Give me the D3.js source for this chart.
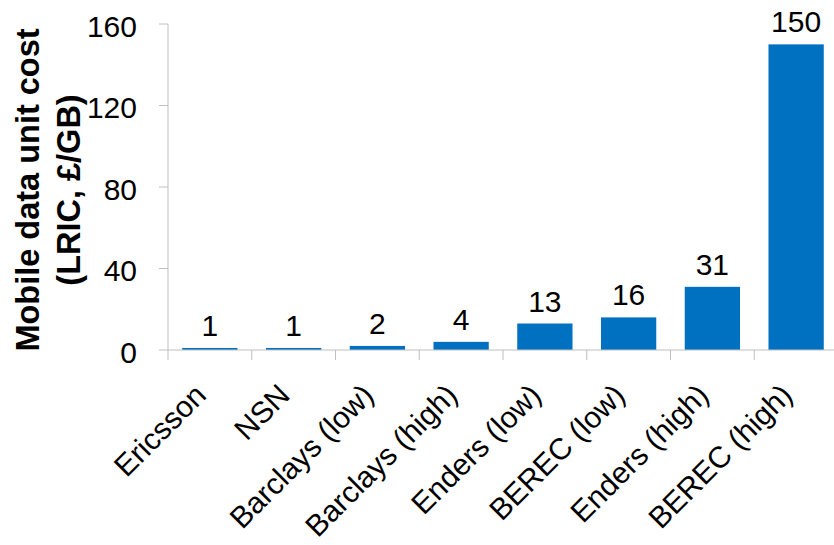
<!DOCTYPE html>
<html>
<head>
<meta charset="utf-8">
<script src="https://cdn.jsdelivr.net/npm/d3@7"></script>
<style>
  body { margin: 0; background: #fff; }
  svg { display: block; font-family: "Liberation Sans", Arial, sans-serif; }
</style>
</head>
<body>
<svg id="chart" width="834" height="545"></svg>
<script>
// Chart data
var categories = ['Ericsson', 'NSN', 'Barclays (low)', 'Barclays (high)', 'Enders (low)', 'BEREC (low)', 'Enders (high)', 'BEREC (high)'];
var costs = [1, 1, 2, 4, 13, 16, 31, 150];
var yTicks = [0, 40, 80, 120, 160];

var svg = d3.select('#chart');

// Plot area
var plotLeft = 168, plotRight = 838, plotTop = 24, plotBottom = 350;
var fontSize = 30;

var x = d3.scaleBand()
  .domain(categories)
  .range([plotLeft, plotRight])
  .paddingInner(0.34)
  .paddingOuter(0.17);

var y = d3.scaleLinear()
  .domain([0, 160])
  .range([plotBottom, plotTop]);

var axisColor = '#bfbfbf';

// Y axis
svg.append('line')
  .attr('x1', plotLeft).attr('x2', plotLeft)
  .attr('y1', plotTop).attr('y2', plotBottom)
  .attr('stroke', axisColor).attr('stroke-width', 1);

svg.selectAll('.ytick')
  .data(yTicks)
  .enter().append('line')
  .attr('x1', plotLeft - 9).attr('x2', plotLeft)
  .attr('y1', function(d) { return y(d); })
  .attr('y2', function(d) { return y(d); })
  .attr('stroke', axisColor);

svg.selectAll('.ylabel')
  .data(yTicks)
  .enter().append('text')
  .attr('x', plotLeft - 31)
  .attr('y', function(d) { return y(d) + 2; })
  .attr('dy', '0.36em')
  .attr('text-anchor', 'end')
  .attr('font-size', fontSize)
  .attr('fill', '#000')
  .text(function(d) { return d; });

// Y title, two lines
var title = svg.append('text')
  .attr('transform', 'translate(0,190) rotate(-90)')
  .attr('text-anchor', 'middle')
  .attr('font-size', 32.5)
  .attr('font-weight', 'bold')
  .attr('fill', '#000');
title.append('tspan').attr('x', 0).attr('y', 39).text('Mobile data unit cost');
title.append('tspan').attr('x', 0).attr('y', 80).text('(LRIC, £/GB)');

// Bars
svg.selectAll('.bar')
  .data(costs)
  .enter().append('rect')
  .attr('x', function(d, i) { return x(categories[i]); })
  .attr('width', x.bandwidth())
  .attr('y', function(d) { return y(d); })
  .attr('height', function(d) { return plotBottom - y(d); })
  .attr('fill', '#0070c0');

// Value labels
svg.selectAll('.value')
  .data(costs)
  .enter().append('text')
  .attr('x', function(d, i) { return x(categories[i]) + x.bandwidth() / 2; })
  .attr('y', function(d) { return y(d) - 12; })
  .attr('text-anchor', 'middle')
  .attr('font-size', fontSize)
  .attr('fill', '#000')
  .text(function(d) { return d; });

// X axis
svg.append('line')
  .attr('x1', plotLeft).attr('x2', plotRight)
  .attr('y1', plotBottom).attr('y2', plotBottom)
  .attr('stroke', axisColor);

var step = x.step();
svg.selectAll('.xtick')
  .data(d3.range(categories.length + 1))
  .enter().append('line')
  .attr('x1', function(i) { return plotLeft + i * step; })
  .attr('x2', function(i) { return plotLeft + i * step; })
  .attr('y1', plotBottom).attr('y2', plotBottom + 10)
  .attr('stroke', axisColor);

// Category labels, rotated
svg.selectAll('.xlabel')
  .data(categories)
  .enter().append('text')
  .attr('transform', function(d) {
    return 'translate(' + (x(d) + x.bandwidth() / 2 - 2) + ',' + (plotBottom + 47) + ') rotate(-45)';
  })
  .attr('text-anchor', 'end')
  .attr('font-size', fontSize)
  .attr('fill', '#000')
  .text(function(d) { return d; });
</script>
</body>
</html>
